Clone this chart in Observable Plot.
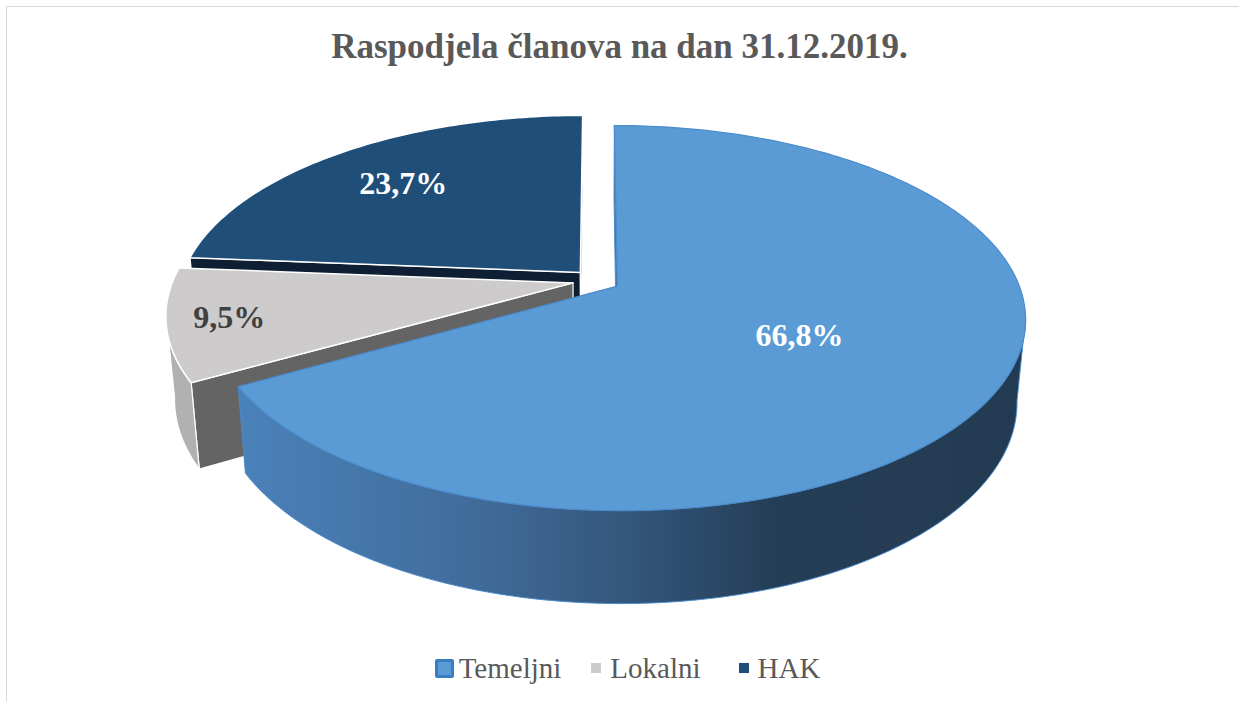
<!DOCTYPE html>
<html>
<head>
<meta charset="utf-8">
<script src="https://cdn.jsdelivr.net/npm/d3@7"></script>
<script src="https://cdn.jsdelivr.net/npm/@observablehq/plot@0.6"></script>
<style>
  html, body { margin: 0; padding: 0; background: #fff; overflow: hidden; width: 1239px; height: 702px; }
  #frame { position: absolute; left: 6px; top: 6px; width: 1300px; height: 760px;
           border-top: 1.5px solid #d9d9d9; border-left: 1.5px solid #d9d9d9; }
  #title { position: absolute; left: 0; top: 27px; width: 1239px; text-align: center;
           font: bold 35px "Liberation Serif", "Times New Roman", serif; line-height: 40px; color: #595959; }
  #chart { position: absolute; left: 0; top: 90px; }
  #legend { position: absolute; left: 0; top: 651px; width: 1239px; box-sizing: border-box; padding-left: 16px;
            display: flex; justify-content: center; align-items: center;
            font: 29px "Liberation Serif", "Times New Roman", serif; line-height: 34px; color: #595959; }
  #legend .item { display: flex; align-items: center; }
  #legend .item.i0 { margin-right: 30px; }
  #legend .item.i1 { margin-right: 38px; }
  #legend .key { display: inline-block; width: 10px; height: 10px; margin-right: 9px; }
  #legend .key.big { width: 13px; height: 13px; border: 3px solid #3a7dc0; border-radius: 2px; margin-right: 5px; }
</style>
</head>
<body>
<div id="frame"></div>
<div id="title">Raspodjela članova na dan 31.12.2019.</div>
<div id="chart"></div>
<div id="legend"></div>
<script>
// ---- data ----
const categories = ["Temeljni", "Lokalni", "HAK"];
const values = [66.8, 9.5, 23.7];

// ---- styles ----
const style = {
  Temeljni: { top: "#5b9bd5", side: "url(#temSide)", radial: "#3f6f9f", stroke: "#4a8bcb", sw: 1.2, label: "#ffffff", labelR: 0.5 },
  Lokalni:  { top: "#cdcbcb", side: "#b1b1b1", radial: "#646464", stroke: "#ffffff", sw: 1.5, label: "#404040", labelR: 0.85 },
  HAK:      { top: "#1f4e79", side: "#16395a", radial: "#0e1f33", stroke: "#ffffff", sw: 1.5, label: "#ffffff", labelR: 0.72 }
};

// ---- 3D pie geometry (perspective) ----
const W = 1239, H = 530;
const CX = 596, CY = 190;          // centre in svg pixels
const A = 400, B = 185.4;          // horizontal / vertical radii
const K = 0.165, E = 0.06;         // perspective strength, explosion
const DEPTH = 81, SB = 0.98;       // thickness, bottom-face shrink
const rad = d => d * Math.PI / 180;

const total = d3.sum(values);
let acc = 0;
const slices = categories.map((name, i) => {
  const a0 = acc / total * 360; acc += values[i]; const a1 = acc / total * 360;
  const mid = (a0 + a1) / 2;
  return { name, value: values[i], a0, a1, mid,
           ex: E * Math.sin(rad(mid)), ez: E * Math.cos(rad(mid)) };
});

function P(s, r, deg, bottom) {
  const t = rad(deg);
  const X = r * Math.sin(t) + s.ex, Z = r * Math.cos(t) + s.ez;
  const f = 1 / (1 + K * Z);
  const sc = bottom ? SB : 1;
  return { u: X * f * sc, v: Z * f * sc - (bottom ? DEPTH * f / B : 0) };
}
function arc(s, d0, d1, bottom) {
  const n = Math.max(2, Math.ceil(Math.abs(d1 - d0)));
  return d3.range(n + 1).map(j => P(s, 1, d0 + (d1 - d0) * j / n, bottom));
}

const faces = [];
function face(pts, fill, stroke, sw) { faces.push({ pts: [...pts, pts[0]], fill, stroke, sw }); }

const camZ = -1 / K;
const vis0 = Math.acos(-K) * 180 / Math.PI, vis1 = 360 - vis0;
function radialVisible(s, deg, dir) {
  const t = rad(deg);
  const nx = dir * Math.cos(t), nz = -dir * Math.sin(t);
  return nx * (0 - s.ex) + nz * (camZ - s.ez) > 0;
}

const order = ["HAK", "Lokalni", "Temeljni"];
for (const name of order) {
  const s = slices.find(d => d.name === name);
  const st = style[name];
  for (const [deg, dir] of [[s.a0, -1], [s.a1, 1]]) {
    if (radialVisible(s, deg, dir)) {
      face([P(s, 0, deg, false), P(s, 1, deg, false), P(s, 1, deg, true), P(s, 0, deg, true)],
           st.radial, st.stroke, st.sw * 0.8);
    }
  }
  const lo = Math.max(s.a0, vis0), hi = Math.min(s.a1, vis1);
  if (hi > lo) {
    face([...arc(s, lo, hi, false), ...arc(s, hi, lo, true)], st.side, st.stroke, st.sw * 0.8);
  }
  face([P(s, 0, s.a0, false), ...arc(s, s.a0, s.a1, false)], st.top, st.stroke, st.sw);
}

const labelData = slices.map(s => {
  const p = P(s, style[s.name].labelR, s.mid, false);
  return { ...p, text: s.value.toFixed(1).replace(".", ",") + "%", color: style[s.name].label };
});

const marks = faces.map(fc =>
  Plot.line(fc.pts, { x: "u", y: "v", fill: fc.fill, stroke: fc.stroke, strokeWidth: fc.sw,
                      strokeLinejoin: "round", curve: "linear" })
);
marks.push(Plot.text(labelData, { x: "u", y: "v", text: "text", fill: "color",
  fontSize: 32, fontWeight: "bold", fontFamily: "Liberation Serif, Times New Roman, serif" }));

const chart = Plot.plot({
  width: W, height: H,
  marginLeft: 0, marginRight: 0, marginTop: 0, marginBottom: 0,
  x: { domain: [(0 - CX) / A, (W - CX) / A], axis: null },
  y: { domain: [(CY - H) / B, CY / B], axis: null },
  color: { type: "identity" },
  style: { background: "transparent" },
  marks
});

const svg = d3.select(chart.tagName.toLowerCase() === "svg" ? chart : chart.querySelector("svg"));
const grad = svg.insert("defs", ":first-child").append("linearGradient").attr("id", "temSide")
  .attr("x1", "0").attr("x2", "1").attr("y1", "0").attr("y2", "0");
[[0, "#4b82ba"], [0.32, "#3f6a98"], [0.49, "#34577c"], [0.68, "#253e57"], [1, "#233b52"]]
  .forEach(([o, c]) => grad.append("stop").attr("offset", o).attr("stop-color", c));

document.getElementById("chart").appendChild(chart);

// legend
const legend = d3.select("#legend");
categories.forEach((c, i) => {
  const item = legend.append("span").attr("class", "item i" + i);
  item.append("span").attr("class", "key" + (i === 0 ? " big" : ""))
      .style("background", style[c].top);
  item.append("span").text(c);
});
</script>
</body>
</html>
